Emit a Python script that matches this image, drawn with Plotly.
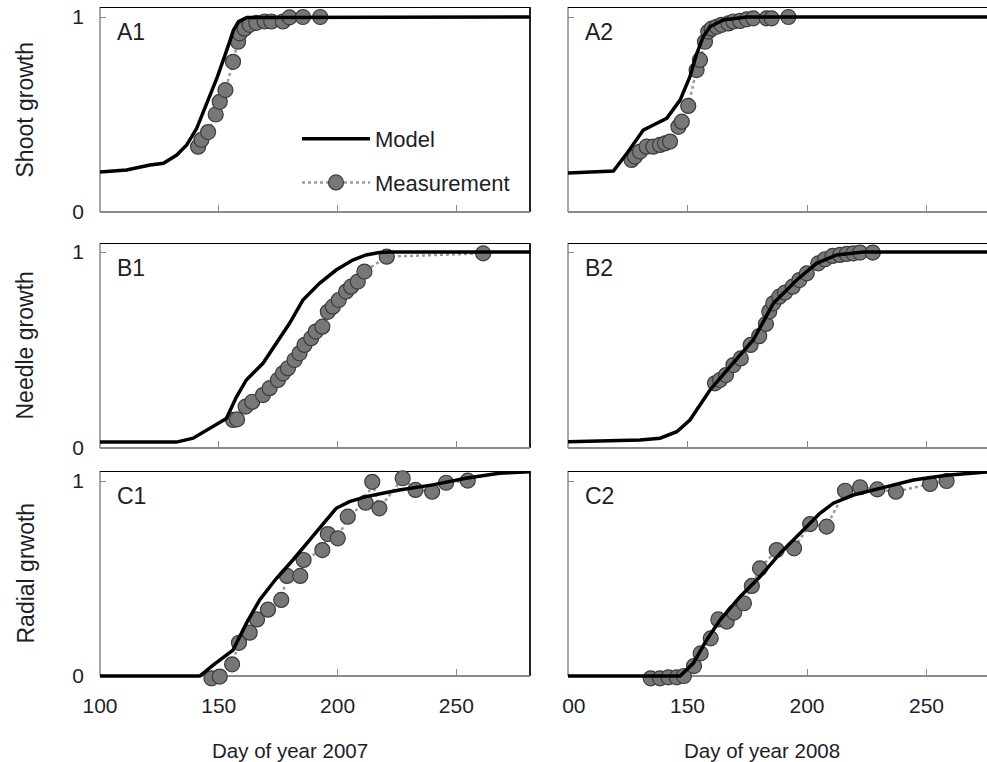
import plotly.graph_objects as go

# ---------------- data ----------------
# A1: shoot growth 2007
a1_model_x = [100, 111.2, 121, 126.7, 132.3, 136.5, 140.7, 145, 149.2, 153.4, 156.2, 158.3, 161.8, 281]
a1_model_y = [0.205, 0.215, 0.241, 0.25, 0.292, 0.344, 0.429, 0.557, 0.686, 0.831, 0.933, 0.976, 0.998, 1.0]
a1_meas_x = [141.3, 142.7, 145.5, 148.7, 150.4, 152.8, 156.0, 158.1, 158.8, 160.9, 163.0, 165.8, 169.3, 172.1, 177.0, 179.8, 185.4, 192.7]
a1_meas_y = [0.335, 0.37, 0.41, 0.50, 0.565, 0.625, 0.77, 0.873, 0.916, 0.94, 0.96, 0.97, 0.977, 0.977, 0.977, 0.998, 1.0, 1.0]

# A2: shoot growth 2008
a2_model_x = [100, 119, 124.6, 131.5, 135.7, 141.3, 146.9, 151, 153.8, 156.6, 159.4, 165, 174.8, 276]
a2_model_y = [0.20, 0.21, 0.30, 0.42, 0.446, 0.48, 0.574, 0.694, 0.81, 0.90, 0.95, 0.985, 1.0, 1.0]
a2_meas_x = [126.6, 128.0, 130.1, 132.9, 135.7, 138.5, 140.6, 142.7, 146.2, 147.6, 150.3, 153.8, 155.2, 157.3, 158.7, 160.1, 162.2, 164.3, 167.1, 169.2, 172.0, 174.8, 177.5, 183.1, 185.2, 192.2]
a2_meas_y = [0.267, 0.284, 0.31, 0.335, 0.335, 0.344, 0.352, 0.361, 0.437, 0.463, 0.544, 0.728, 0.78, 0.873, 0.925, 0.94, 0.95, 0.96, 0.967, 0.977, 0.98, 0.988, 0.993, 0.993, 0.993, 1.0]

# B1: needle growth 2007
b1_model_x = [100, 132.2, 139.2, 146.2, 153.2, 157.4, 161.6, 168.6, 174.2, 179.8, 185.4, 192.4, 199.4, 206.4, 212, 217.6, 222, 281]
b1_model_y = [0.03, 0.03, 0.05, 0.10, 0.15, 0.26, 0.347, 0.432, 0.534, 0.636, 0.755, 0.84, 0.908, 0.959, 0.985, 0.997, 1.0, 1.0]
b1_meas_x = [156.0, 157.7, 161.3, 164.1, 168.6, 171.4, 174.9, 177.0, 179.1, 181.9, 184.0, 186.1, 188.9, 190.8, 193.6, 195.9, 198.0, 200.5, 203.6, 205.7, 208.5, 211.3, 220.7, 261.3]
b1_meas_y = [0.143, 0.146, 0.211, 0.236, 0.27, 0.305, 0.347, 0.381, 0.407, 0.449, 0.483, 0.526, 0.56, 0.594, 0.619, 0.695, 0.721, 0.755, 0.798, 0.823, 0.849, 0.90, 0.976, 0.993]

# B2: needle growth 2008
b2_model_x = [100, 130.1, 138.5, 145.5, 151, 155.2, 159.4, 167.8, 177.5, 185.9, 195.7, 204, 212.4, 223.5, 276]
b2_model_y = [0.032, 0.041, 0.05, 0.083, 0.143, 0.219, 0.296, 0.415, 0.551, 0.738, 0.857, 0.942, 0.985, 1.0, 1.0]
b2_meas_x = [161.5, 163.6, 166.1, 169.2, 172.3, 176.4, 180.0, 182.8, 184.2, 185.9, 188.4, 190.8, 194.0, 196.8, 199.9, 204.7, 207.5, 210.7, 213.8, 216.6, 219.4, 222.2, 227.5]
b2_meas_y = [0.33, 0.347, 0.372, 0.423, 0.457, 0.526, 0.571, 0.633, 0.696, 0.738, 0.772, 0.793, 0.823, 0.857, 0.891, 0.942, 0.963, 0.98, 0.985, 0.99, 0.993, 0.997, 0.997]

# C1: radial growth 2007
c1_model_x = [100, 142, 147.6, 156, 161.6, 167.2, 174.2, 181.2, 188.2, 195.3, 199.4, 205, 212, 219, 226, 240, 254, 268, 281]
c1_model_y = [0, 0, 0.056, 0.133, 0.27, 0.39, 0.50, 0.595, 0.697, 0.80, 0.86, 0.894, 0.92, 0.937, 0.954, 0.98, 1.014, 1.04, 1.047]
c1_meas_x = [146.9, 150.4, 155.6, 158.5, 163.0, 166.1, 170.7, 176.3, 178.7, 184.3, 185.7, 193.6, 195.9, 200.1, 204.3, 211.8, 214.6, 217.6, 227.4, 232.8, 239.8, 245.7, 254.8]
c1_meas_y = [-0.012, -0.003, 0.06, 0.17, 0.222, 0.29, 0.34, 0.39, 0.513, 0.513, 0.595, 0.646, 0.728, 0.706, 0.817, 0.889, 0.996, 0.86, 1.014, 0.954, 0.945, 0.991, 1.002]

# C2: radial growth 2008
c2_model_x = [100, 146.9, 152.4, 158, 163.6, 172, 180.3, 188.7, 197.1, 205.4, 211, 219.4, 230.5, 244.5, 258.4, 276]
c2_model_y = [0, 0, 0.065, 0.185, 0.287, 0.407, 0.509, 0.629, 0.732, 0.834, 0.886, 0.928, 0.962, 1.005, 1.03, 1.047]
c2_meas_x = [134.6, 138.5, 142.0, 145.5, 148.5, 152.7, 155.5, 159.7, 162.9, 166.4, 169.5, 173.6, 176.9, 180.3, 187.3, 194.6, 201.3, 208.2, 215.9, 222.2, 229.4, 237.2, 251.5, 258.4]
c2_meas_y = [-0.012, -0.012, -0.007, -0.007, 0.0, 0.051, 0.116, 0.193, 0.29, 0.279, 0.325, 0.373, 0.462, 0.552, 0.646, 0.655, 0.779, 0.766, 0.95, 0.968, 0.957, 0.945, 0.985, 1.0]

panel_labels = ["A1", "A2", "B1", "B2", "C1", "C2"]
row_titles = ["Shoot growth", "Needle growth", "Radial grwoth"]
x_titles = ["Day of year 2007", "Day of year 2008"]
x_tickvals = [100, 150, 200, 250]
x_ticktext_left = ["100", "150", "200", "250"]
x_ticktext_right = ["\u200700", "150", "200", "250"]
y_tickvals = [0, 1]
y_ticktext = ["0", "1"]

models = [(a1_model_x, a1_model_y), (a2_model_x, a2_model_y),
          (b1_model_x, b1_model_y), (b2_model_x, b2_model_y),
          (c1_model_x, c1_model_y), (c2_model_x, c2_model_y)]
meas = [(a1_meas_x, a1_meas_y), (a2_meas_x, a2_meas_y),
        (b1_meas_x, b1_meas_y), (b2_meas_x, b2_meas_y),
        (c1_meas_x, c1_meas_y), (c2_meas_x, c2_meas_y)]

# ---------------- layout geometry ----------------
W, H = 987, 762
col_px = [(100, 530), (568, 987)]
col_range = [[100, 281], [100, 275.3]]
row_px = [(7, 212, 195), (243, 448, 196), (471, 676, 195)]  # top, zero, px per unit
EXT = 0.035  # room below zero so near-zero markers are drawn

FONT = "Liberation Sans, Arial, sans-serif"
TXT = "#1e1e28"
AXC = "#8a8a8a"

fig = go.Figure()
layout = dict(width=W, height=H, margin=dict(l=0, r=0, t=0, b=0, autoexpand=False),
              paper_bgcolor="white", plot_bgcolor="white",
              font=dict(family=FONT, size=21, color=TXT))
shapes, annotations = [], []

for i in range(6):
    r, c = divmod(i, 2)
    idx = i + 1
    xs = "" if idx == 1 else str(idx)
    top, zero, ppu = row_px[r]
    x0, x1 = col_px[c]
    ytop = (zero - top) / ppu
    bot_px = zero + EXT * ppu
    xdom = [x0 / W, x1 / W]
    ydom = [1 - bot_px / H, 1 - top / H]
    bottom = (r == 2)
    layout["xaxis" + xs] = dict(
        domain=xdom, range=col_range[c], anchor="free", position=1 - zero / H,
        tickvals=x_tickvals if bottom else [150, 200, 250],
        ticktext=(x_ticktext_left if c == 0 else x_ticktext_right) if bottom else ["150", "200", "250"],
        showticklabels=bottom, ticks="inside", ticklen=6, tickcolor=AXC, tickwidth=1,
        showline=True, linecolor=AXC, linewidth=1.5, showgrid=False, zeroline=False,
        layer="below traces",
        tickfont=dict(size=21, color=TXT), ticklabelstandoff=11, fixedrange=True)
    layout["yaxis" + xs] = dict(
        domain=ydom, range=[-EXT, ytop], anchor="x" + xs,
        tickvals=y_tickvals, ticktext=y_ticktext,
        showticklabels=(c == 0), ticks="inside", ticklen=6, tickcolor=AXC, tickwidth=1,
        showline=False, showgrid=False, zeroline=False, layer="below traces",
        tickfont=dict(size=21, color=TXT), ticklabelstandoff=15, fixedrange=True)
    # left spine (gray), top spine and right spine (dark)
    shapes.append(dict(type="line", xref="x" + xs + " domain", yref="y" + xs, layer="below",
                       x0=0, x1=0, y0=0, y1=ytop, line=dict(color=AXC, width=1.5)))
    shapes.append(dict(type="line", xref="x" + xs + " domain", yref="y" + xs, layer="below",
                       x0=0, x1=1, y0=ytop, y1=ytop, line=dict(color="black", width=2)))
    if c == 0:
        shapes.append(dict(type="line", xref="x" + xs + " domain", yref="y" + xs, layer="below",
                           x0=1, x1=1, y0=0, y1=ytop, line=dict(color="#222", width=2)))
    annotations.append(dict(text=panel_labels[i], xref="x" + xs + " domain", yref="y" + xs,
                            x=0, y=ytop, xshift=15, yshift=-25, xanchor="left", yanchor="middle",
                            showarrow=False, font=dict(size=23, color=TXT)))

    mx, my = meas[i]
    fig.add_trace(go.Scatter(x=mx, y=my, mode="lines+markers", name="Measurement",
                             xaxis="x" + xs, yaxis="y" + xs, cliponaxis=False,
                             legendgroup="meas",
                             line=dict(color="#9a9a9a", width=2.5, dash="dot"),
                             marker=dict(size=15, color="#777777", line=dict(color="#3c3c3c", width=1.2)),
                             showlegend=(i == 0), legendrank=2))
    gx, gy = models[i]
    fig.add_trace(go.Scatter(x=gx, y=gy, mode="lines", name="Model",
                             xaxis="x" + xs, yaxis="y" + xs, legendgroup="model",
                             line=dict(color="black", width=3.5),
                             showlegend=(i == 0), legendrank=1))

# row titles
for r in range(3):
    top, zero, ppu = row_px[r]
    annotations.append(dict(text=row_titles[r], xref="paper", yref="paper",
                            x=25 / W, y=1 - (top + zero) / 2 / H, textangle=-90,
                            xanchor="center", yanchor="middle", showarrow=False,
                            font=dict(size=23, color=TXT)))
# x titles
for c, cx in enumerate([290, 762]):
    annotations.append(dict(text=x_titles[c], xref="paper", yref="paper",
                            x=cx / W, y=1 - 750 / H, xanchor="center", yanchor="middle",
                            showarrow=False, font=dict(size=20.5, color=TXT)))

layout["shapes"] = shapes
layout["annotations"] = annotations
layout["legend"] = dict(x=297 / W, y=1 - 118 / H, xanchor="left", yanchor="top",
                        bgcolor="rgba(0,0,0,0)", font=dict(size=22, color=TXT),
                        tracegroupgap=12, itemwidth=68)
fig.update_layout(**layout)
fig.write_html("out.html", config={"displayModeBar": False},
               post_script="document.body.style.margin='0px';document.body.style.overflow='hidden';")
